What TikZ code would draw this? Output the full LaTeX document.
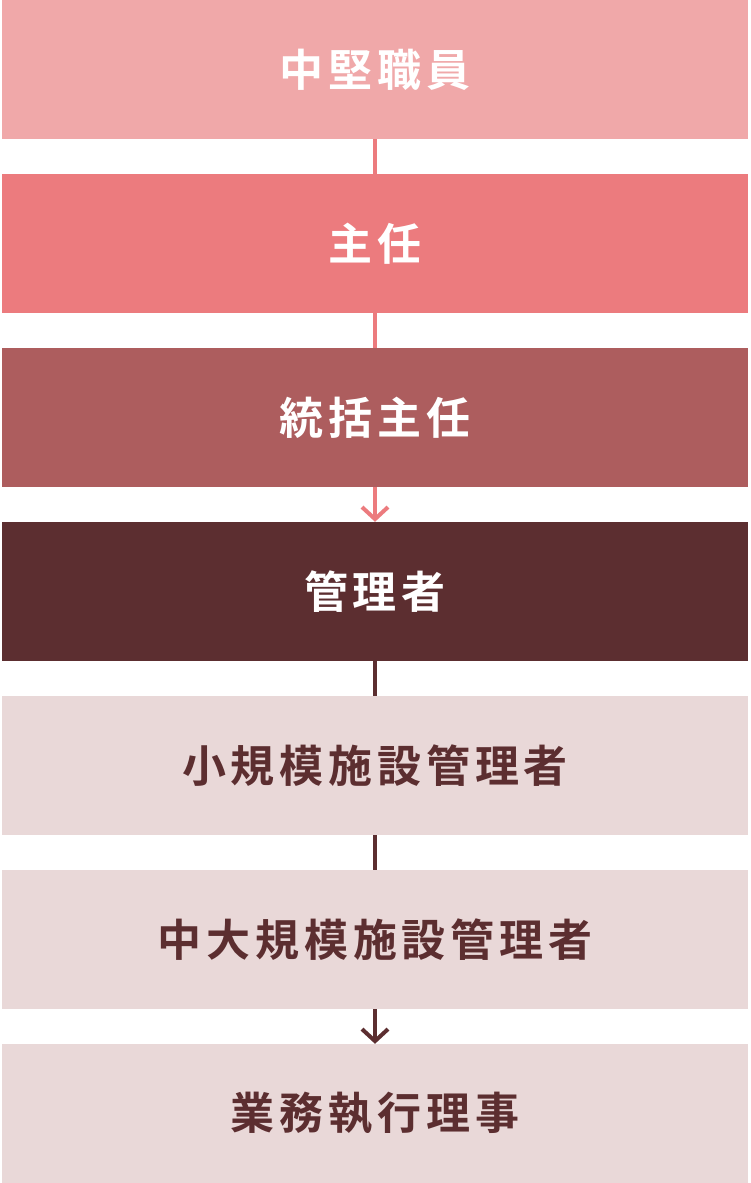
\documentclass[tikz,border=0pt]{standalone}
\usepackage{fontspec}
\newfontfamily\cjk[LetterSpace=11,BoldFont={Noto Sans CJK JP Bold}]{Noto Sans CJK JP}
\usetikzlibrary{arrows.meta}
\definecolor{cA}{HTML}{F0A8A9}
\definecolor{cB}{HTML}{EC7B7E}
\definecolor{cC}{HTML}{AD5D5E}
\definecolor{cD}{HTML}{5C2E30}
\definecolor{cE}{HTML}{E9D8D8}
\begin{document}
\begin{tikzpicture}[x=1pt,y=1pt,
  box/.style={rectangle, inner sep=0pt, minimum width=746pt, minimum height=139pt,
    font=\cjk\bfseries\fontsize{44pt}{52pt}\selectfont, text=white},
  lightbox/.style={box, fill=cE, text=cD},
  conn/.style={line width=4.5pt},
  arr/.style={conn, -{Straight Barb[length=12pt,width=26pt,line width=4pt]}}
]
\useasboundingbox (0,0) rectangle (750,-1183);
\node[box, fill=cA] (b1) at (375,-69.5) {中堅職員\hspace{-0.11em}};
\node[box, fill=cB] (b2) at (375,-243.5) {主任\hspace{-0.11em}};
\node[box, fill=cC] (b3) at (375,-417.5) {統括主任\hspace{-0.11em}};
\node[box, fill=cD] (b4) at (375,-591.5) {管理者\hspace{-0.11em}};
\node[lightbox] (b5) at (375,-765.5) {小規模施設管理者\hspace{-0.11em}};
\node[lightbox] (b6) at (375,-939.5) {中大規模施設管理者\hspace{-0.11em}};
\node[lightbox] (b7) at (375,-1113.5) {業務執行理事\hspace{-0.11em}};
\draw[conn, cB] (b1.south) -- (b2.north);
\draw[conn, cB] (b2.south) -- (b3.north);
\draw[arr, cB] (b3.south) -- (b4.north);
\draw[conn, cD] (b4.south) -- (b5.north);
\draw[conn, cD] (b5.south) -- (b6.north);
\draw[arr, cD] (b6.south) -- (b7.north);
\end{tikzpicture}
\end{document}
